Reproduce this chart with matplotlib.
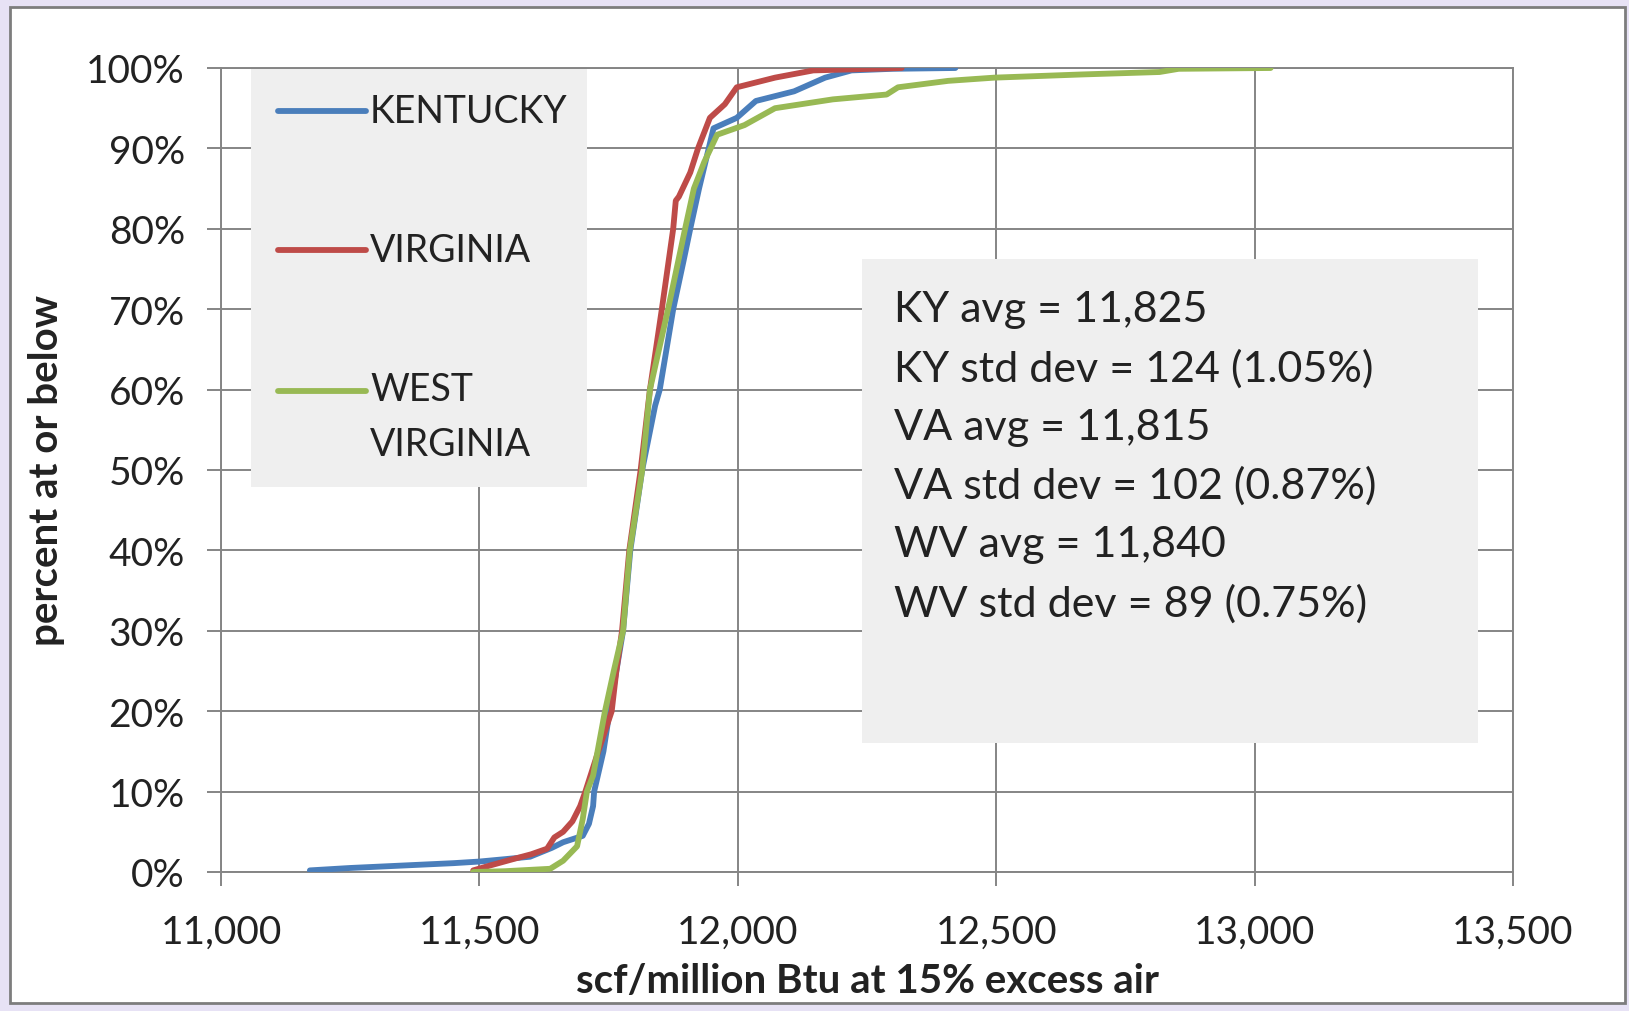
import matplotlib.pyplot as plt
from matplotlib.patches import Rectangle
from matplotlib.lines import Line2D
from matplotlib.ticker import FuncFormatter

# ---------- DATA ----------
ky_x = [11172, 11250, 11350, 11450, 11500, 11550, 11598, 11640, 11662, 11700,
        11712, 11720, 11722, 11740, 11752, 11778, 11792, 11815, 11840, 11849,
        11862, 11875, 11895, 11908, 11925, 11940, 11953, 11998, 12035, 12109,
        12169, 12220, 12300, 12421]
ky_pct = [0.2, 0.5, 0.8, 1.1, 1.3, 1.6, 1.9, 3.0, 3.7, 4.5,
          6.0, 8.2, 10.0, 15, 20, 30, 40, 50, 58, 60,
          65, 70, 76, 80, 85, 89, 92.5, 93.8, 95.9, 97.1,
          98.8, 99.7, 99.9, 100]

va_x = [11488, 11520, 11565, 11600, 11631, 11645, 11662, 11680, 11695, 11705,
        11730, 11756, 11765, 11776, 11790, 11812, 11830, 11853, 11875, 11880,
        11886, 11908, 11923, 11946, 11975, 11998, 12072, 12146, 12317]
va_pct = [0.2, 0.8, 1.6, 2.2, 2.9, 4.3, 5.0, 6.3, 8.2, 10,
          15, 20, 25, 30, 40, 50, 60, 70, 80, 83.5,
          84, 87, 90, 93.8, 95.5, 97.6, 98.8, 99.7, 100]

wv_x = [11488, 11550, 11637, 11662, 11689, 11700, 11708, 11720, 11743, 11760,
        11778, 11791, 11815, 11830, 11865, 11898, 11915, 11935, 11960, 12013,
        12072, 12184, 12288, 12310, 12407, 12496, 12667, 12816, 12853, 13031]
wv_pct = [0.0, 0.1, 0.4, 1.4, 3.2, 6.6, 10, 12, 20, 25,
          30, 40, 50, 60, 70, 80, 85, 88.3, 91.7, 92.9,
          95, 96.1, 96.7, 97.6, 98.4, 98.8, 99.2, 99.5, 99.9, 100]

series_names = ["KENTUCKY", "VIRGINIA", "WEST\nVIRGINIA"]
series_colors = ["#4a7ebb", "#be4b48", "#98b954"]

stats_lines = ["KY avg = 11,825", "KY std dev = 124 (1.05%)",
               "VA avg = 11,815", "VA std dev = 102 (0.87%)",
               "WV avg = 11,840", "WV std dev = 89 (0.75%)"]

x_ticks = [11000, 11500, 12000, 12500, 13000, 13500]
y_ticks = [0, 10, 20, 30, 40, 50, 60, 70, 80, 90, 100]

# ---------- LAYOUT ----------
W, H = 1629, 1012
AX_L, AX_R, AX_T, AX_B = 221, 1513, 69, 873   # axes box in pixels
GRID = "#858585"
TXT = "#222222"
FONT = "Lato"
LW = 4.2

plt.rcParams["font.family"] = [FONT, "DejaVu Sans"]


def fx(px):
    return px / W


def fy(py):
    return 1 - py / H


def axx(px):
    return (px - AX_L) / (AX_R - AX_L)


def axy(py):
    return (AX_B - py) / (AX_B - AX_T)


fig = plt.figure(figsize=(W / 100, H / 100), dpi=100)
fig.patch.set_facecolor("#e7e2f5")
# white chart area with grey border, kept behind the axes
fig.patches.append(Rectangle((fx(10), fy(1004)), fx(1625) - fx(10), fy(8) - fy(1004),
                             transform=fig.transFigure, facecolor="white",
                             edgecolor="#7d7d7d", lw=2, zorder=-10))

ax = fig.add_axes([fx(AX_L), fy(AX_B), fx(AX_R) - fx(AX_L), fy(AX_T) - fy(AX_B)])
ax.set_facecolor("white")
ax.set_axisbelow(True)

for xs, ys, c in zip([ky_x, va_x, wv_x], [ky_pct, va_pct, wv_pct], series_colors):
    ax.plot(xs, ys, color=c, lw=LW, solid_capstyle="round", solid_joinstyle="round",
            zorder=3)

ax.set_xlim(11000, 13500)
ax.set_ylim(0, 100)
ax.set_xticks(x_ticks)
ax.set_yticks(y_ticks)
ax.xaxis.set_major_formatter(FuncFormatter(lambda v, p: f"{int(v):,}"))
ax.yaxis.set_major_formatter(FuncFormatter(lambda v, p: f"{int(v)}%"))
ax.grid(True, color=GRID, lw=1.4)
for s in ax.spines.values():
    s.set_color(GRID)
    s.set_linewidth(1.4)
ax.tick_params(axis="both", direction="out", length=10, width=1.4, color=GRID,
               labelsize=28, labelcolor=TXT)
ax.tick_params(axis="y", pad=16)
ax.tick_params(axis="x", pad=20)

ax.set_xlabel("scf/million Btu at 15% excess air", fontsize=29, fontweight="bold",
              color=TXT)
ax.set_ylabel("percent at or below", fontsize=29, fontweight="bold", color=TXT)
ax.xaxis.set_label_coords(0.5, axy(982))
ax.yaxis.set_label_coords(axx(47), 0.5)
ax.xaxis.label.set_va("center")
ax.yaxis.label.set_va("center")

# legend box (drawn by hand so the two-line label lines up like the original)
ax.add_patch(Rectangle((axx(251), axy(488)), axx(587) - axx(251), axy(70) - axy(488),
                       transform=ax.transAxes, facecolor="#efefef", edgecolor="none",
                       zorder=2))
leg_y = [112, 251, 392]
for name, c, ly in zip(series_names, series_colors, leg_y):
    ax.add_line(Line2D([axx(278), axx(366)], [axy(ly), axy(ly)], transform=ax.transAxes,
                       color=c, lw=LW, solid_capstyle="round", zorder=4))
    ax.text(axx(370), axy(ly), name, transform=ax.transAxes, fontsize=27, color=TXT,
            va="top" if "\n" in name else "center", ha="left", linespacing=1.65,
            zorder=5)
# the multi-line label is top-aligned; nudge it so its first line sits on the marker
ax.texts[-1].set_position((axx(370), axy(392 - 20)))

# statistics box
ax.add_patch(Rectangle((axx(862), axy(744)), axx(1478) - axx(862), axy(260) - axy(744),
                       transform=ax.transAxes, facecolor="#efefef", edgecolor="none",
                       zorder=2))
for i, line in enumerate(stats_lines):
    ax.text(axx(894), axy(310 + i * 58.8), line, transform=ax.transAxes, fontsize=31,
            color=TXT, va="center", ha="left", zorder=5)

fig.savefig("out.png", dpi=100, facecolor=fig.get_facecolor())
